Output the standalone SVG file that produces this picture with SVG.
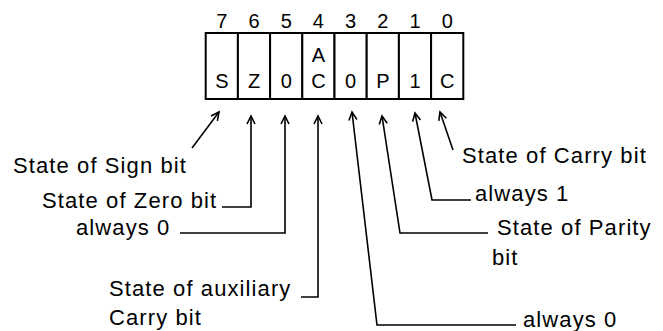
<svg xmlns="http://www.w3.org/2000/svg" width="663" height="331" viewBox="0 0 663 331">
<style>
text{font-family:"Liberation Sans",Arial,sans-serif;fill:#000}
.bit{font-size:20px;text-anchor:middle}
.lbl{font-size:22px;letter-spacing:1.1px}
.cell{fill:#fff;stroke:#000;stroke-width:2}
.con{fill:none;stroke:#000;stroke-width:1.6;marker-start:url(#ah)}
</style>
<defs>
<marker id="ah" markerWidth="12" markerHeight="12" viewBox="-10 -6 12 12" refX="0" refY="0" orient="auto-start-reverse" markerUnits="userSpaceOnUse">
<path d="M-8,-4 L0,0 L-8,4" fill="none" stroke="#000" stroke-width="1.6"/>
</marker>
</defs>
<rect width="663" height="331" fill="#fff"/>
<g id="register">
<g id="bit7"><rect class="cell" x="205.7" y="33" width="32.2" height="66"/><text class="bit" x="221.8" y="28">7</text><text class="bit" x="221.8" y="88">S</text></g>
<g id="bit6"><rect class="cell" x="237.9" y="33" width="32.2" height="66"/><text class="bit" x="254" y="28">6</text><text class="bit" x="254" y="88">Z</text></g>
<g id="bit5"><rect class="cell" x="270.1" y="33" width="32.2" height="66"/><text class="bit" x="286.2" y="28">5</text><text class="bit" x="286.2" y="88">0</text></g>
<g id="bit4"><rect class="cell" x="302.3" y="33" width="32.2" height="66"/><text class="bit" x="318.4" y="28">4</text><text class="bit" x="318.4" y="62">A</text><text class="bit" x="318.4" y="88">C</text></g>
<g id="bit3"><rect class="cell" x="334.5" y="33" width="32.2" height="66"/><text class="bit" x="350.6" y="28">3</text><text class="bit" x="350.6" y="88">0</text></g>
<g id="bit2"><rect class="cell" x="366.7" y="33" width="32.2" height="66"/><text class="bit" x="382.8" y="28">2</text><text class="bit" x="382.8" y="88">P</text></g>
<g id="bit1"><rect class="cell" x="398.9" y="33" width="32.2" height="66"/><text class="bit" x="415" y="28">1</text><text class="bit" x="415" y="88">1</text></g>
<g id="bit0"><rect class="cell" x="431.1" y="33" width="32.2" height="66"/><text class="bit" x="447.2" y="28">0</text><text class="bit" x="447.2" y="88">C</text></g>
</g>
<g id="connectors">
<path class="con" d="M219,112 L192,148"/>
<path class="con" d="M251,116 L251,207 L222,207"/>
<path class="con" d="M285,116 L285,233 L180,233"/>
<path class="con" d="M318,116 L318,297 L301,297"/>
<path class="con" d="M352,112 L377,325 L516,325"/>
<path class="con" d="M382,116 L400,233 L488,233"/>
<path class="con" d="M415,113 L432,200 L471,200"/>
<path class="con" d="M440,112 L453,150"/>
</g>
<g id="label-sign"><text class="lbl" x="13" y="173">State of Sign bit</text></g>
<g id="label-zero"><text class="lbl" x="42" y="208">State of Zero bit</text></g>
<g id="label-always0a"><text class="lbl" x="76" y="235">always 0</text></g>
<g id="label-aux"><text class="lbl" x="109" y="296">State of auxiliary</text><text class="lbl" x="109" y="325">Carry bit</text></g>
<g id="label-always0b"><text class="lbl" x="523" y="327">always 0</text></g>
<g id="label-parity"><text class="lbl" x="497" y="235">State of Parity</text><text class="lbl" x="492" y="265">bit</text></g>
<g id="label-always1"><text class="lbl" x="475" y="201">always 1</text></g>
<g id="label-carry"><text class="lbl" x="462" y="163">State of Carry bit</text></g>
</svg>
